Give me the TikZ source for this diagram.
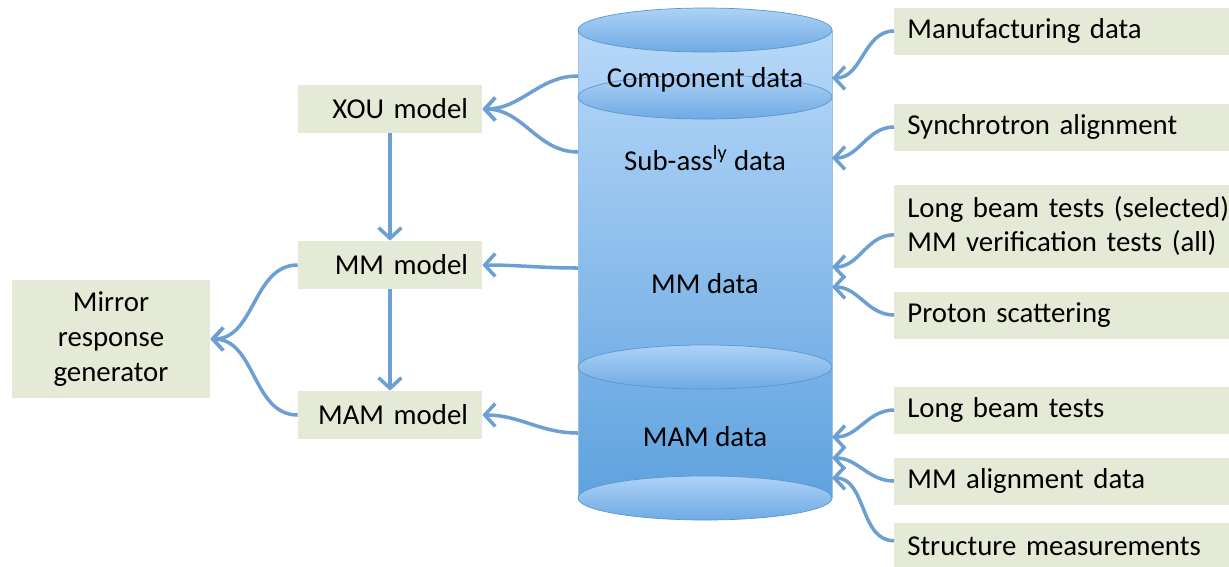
\documentclass[tikz,border=0pt]{standalone}
\usepackage{fontspec}
\setmainfont{Carlito}
\usetikzlibrary{arrows.meta}

\definecolor{boxgreen}{HTML}{E4EAD5}
\definecolor{linkblue}{HTML}{6C9FD2}
\definecolor{cyltop}{HTML}{B7D8F8}
\definecolor{cylbot}{HTML}{5FA2DF}
\definecolor{capA}{HTML}{ADD2F7}
\definecolor{capB}{HTML}{6FAAE3}
\definecolor{capline}{HTML}{5A97D0}

\tikzset{
    databox/.style={fill=boxgreen, anchor=west, text width=7cm, inner xsep=0.26cm, align=left, minimum height=0.94cm},
    modelbox/.style={fill=boxgreen, text width=3.12cm, inner xsep=0.28cm, align=right, minimum height=0.96cm},
    genbox/.style={fill=boxgreen, text width=3.56cm, inner xsep=0.2cm, align=center, minimum height=2.36cm},
    link/.style={draw=linkblue, line width=2pt, -{Straight Barb[length=6pt, width=13pt]}},
}

\begin{document}
\begin{tikzpicture}[x=0.02cm, y=-0.02cm, font=\fontsize{16.4}{19.7}\selectfont]

    % Cylinder geometry (pixels)
    \def\cl{578}    % left edge
    \def\cr{832}    % right edge
    \def\cx{705}    % centre
    \def\rx{127}    % x radius of the caps
    \def\ry{22}     % y radius of the caps

    \useasboundingbox (0,0) rectangle (1229,566);

    % Cylinder body and caps
    \shade[top color=cyltop, bottom color=cylbot] (\cl,30) rectangle (\cr,498);
    \draw[capline!60, thin] (\cl,30) -- (\cl,498) (\cr,30) -- (\cr,498);
    \foreach \y in {30,97,367,498}{
        \shadedraw[top color=capA, bottom color=capB, draw=capline, thin] (\cx,\y) ellipse [x radius=\rx, y radius=\ry];
    }

    % Cylinder texts
    \node (comp)    at (\cx, 80) {Component data};
    \node (subass)  at (\cx,158) {Sub-ass\textsuperscript{ly} data};
    \node (mmdata)  at (\cx,284) {MM data};
    \node (mamdata) at (\cx,437) {MAM data};

    % Ends on the cylinder wall
    \coordinate (inMan) at (\cr, 78);
    \coordinate (inSyn) at (\cr,158);
    \coordinate (inLbs) at (\cr,267);
    \coordinate (inPro) at (\cr,287);
    \coordinate (inLbt) at (\cr,437);
    \coordinate (inAli) at (\cr,458);
    \coordinate (inStr) at (\cr,478);
    \coordinate (outComp) at (\cl, 76);
    \coordinate (outSub)  at (\cl,152);
    \coordinate (outMM)   at (\cl,268);
    \coordinate (outMAM)  at (\cl,433);

    % Data sources
    \node[databox] (man) at (894, 31) {Manufacturing data};
    \node[databox] (syn) at (894,127) {Synchrotron alignment};
    \node[databox, minimum height=1.66cm] (lbs) at (894,226) {Long beam tests (selected)\\MM verification tests (all)};
    \node[databox] (pro) at (894,315) {Proton scattering};
    \node[databox] (lbt) at (894,410) {Long beam tests};
    \node[databox] (ali) at (894,481) {MM alignment data};
    \node[databox] (str) at (894,546) {Structure measurements};

    % Models
    \node[modelbox] (xou) at (390,109) {XOU model};
    \node[modelbox] (mm)  at (390,265) {MM model};
    \node[modelbox] (mam) at (390,415) {MAM model};
    \node[genbox] (mirror) at (111,339) {Mirror\\response\\generator};

    % Inputs to the cylinder
    \draw[link] (man.west) to[out=180, in=0] (inMan);
    \draw[link] (syn.west) to[out=180, in=0] (inSyn);
    \draw[link] ([yshift=-5pt]lbs.west) to[out=180, in=0] (inLbs);
    \draw[link] (pro.west) to[out=180, in=0] (inPro);
    \draw[link] (lbt.west) to[out=180, in=0] (inLbt);
    \draw[link] (ali.west) to[out=180, in=0] (inAli);
    \draw[link] ([yshift=3pt]str.west) to[out=180, in=0] (inStr);

    % Cylinder to models
    \draw[link] (outComp) to[out=180, in=0] (xou.east);
    \draw[link] (outSub)  to[out=180, in=0] (xou.east);
    \draw[link] (outMM)   to[out=180, in=0] (mm.east);
    \draw[link] (outMAM)  to[out=180, in=0] (mam.east);

    % Model chain
    \draw[link] (xou) -- (mm);
    \draw[link] (mm) -- (mam);
    \draw[link] (mm.west)  to[out=180, in=0] (mirror.east);
    \draw[link] (mam.west) to[out=180, in=0] (mirror.east);

\end{tikzpicture}
\end{document}
